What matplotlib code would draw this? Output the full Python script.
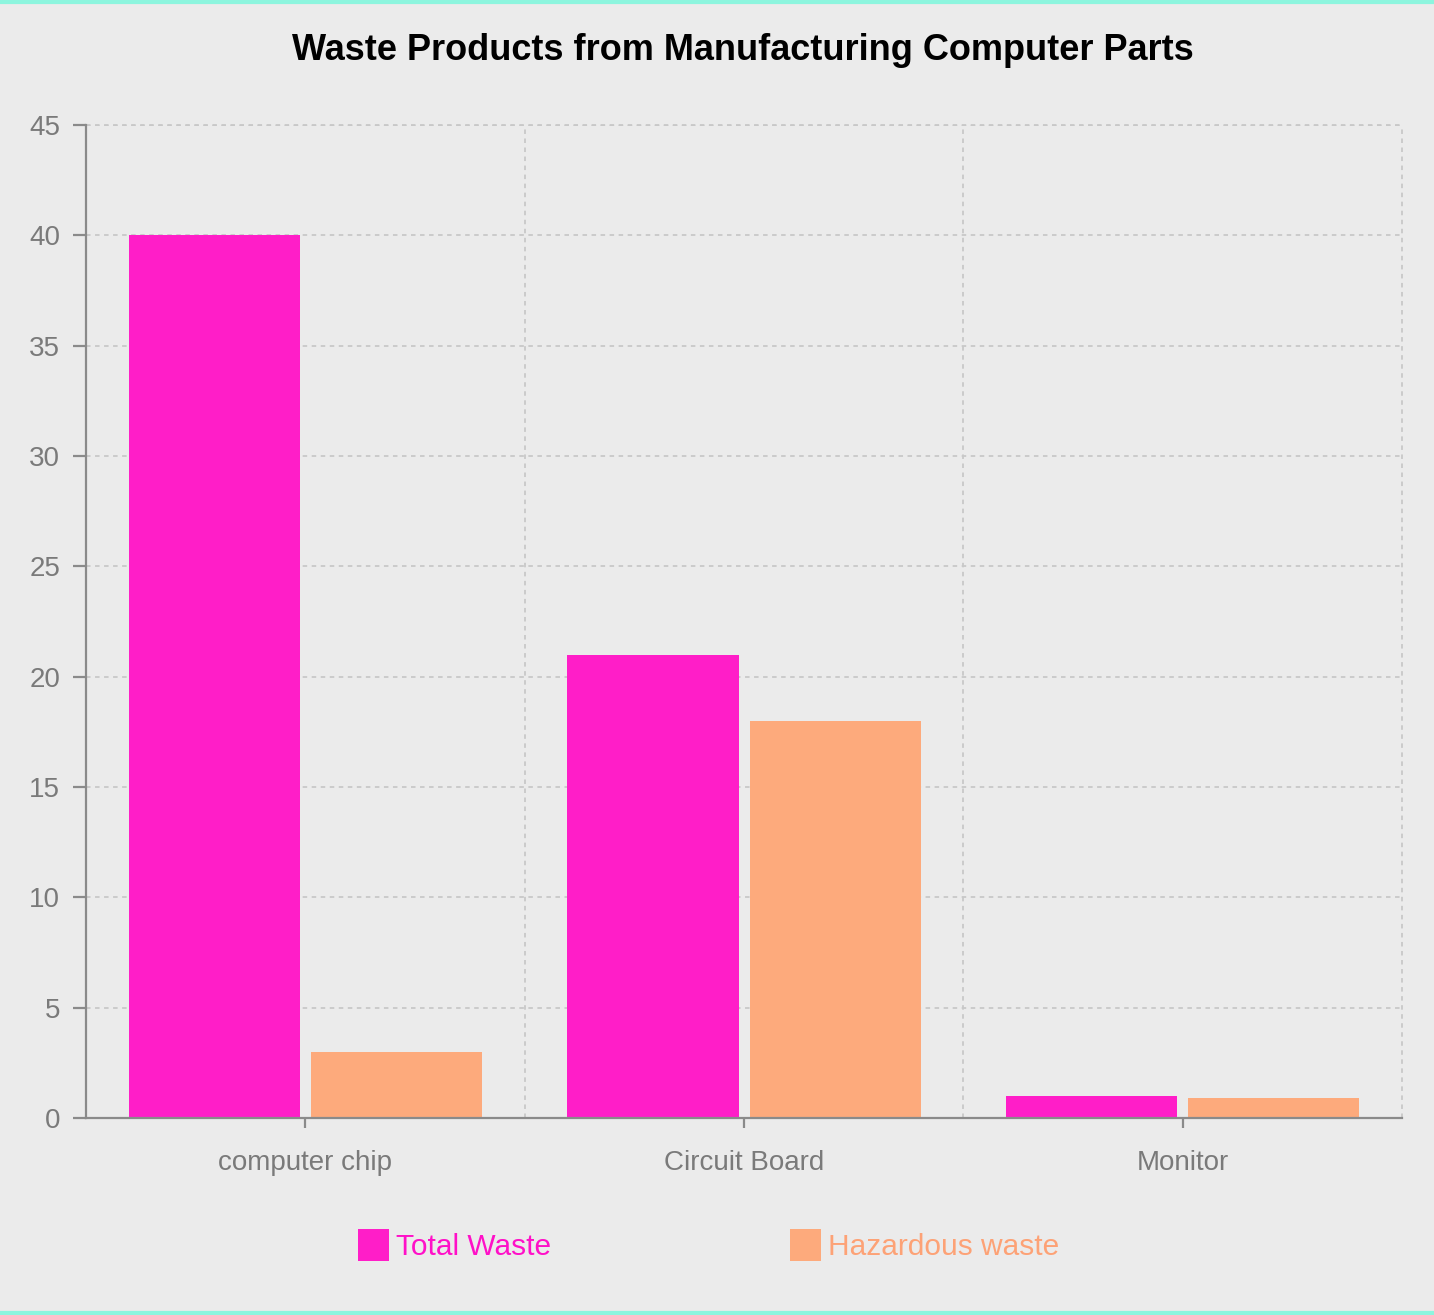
import matplotlib
matplotlib.use("Agg")
import matplotlib.pyplot as plt
import numpy as np
from matplotlib.lines import Line2D
from matplotlib.patches import Patch

plt.rcParams["font.family"] = ["Liberation Sans", "DejaVu Sans"]

categories = ["computer chip", "Circuit Board", "Monitor"]
total_waste = [40, 21, 1.0]
hazardous_waste = [3, 18, 0.9]
series_names = ["Total Waste", "Hazardous waste"]
colors = ["#FF1EC8", "#FDAA7C"]
label_colors = ["#FF10C8", "#FDA276"]

bg = "#EBEBEB"
axis_gray = "#8A8A8A"
text_gray = "#7A7A7A"
grid_gray = "#C8C8C8"

fig = plt.figure(figsize=(14.34, 13.15), dpi=100, facecolor=bg)
ax = fig.add_axes([0.060, 0.1498, 0.9177, 0.7551])
ax.set_facecolor(bg)

x = np.arange(len(categories))
width = 0.39
off = width / 2 + 0.0125
ax.bar(x - off, total_waste, width, color=colors[0], zorder=3)
ax.bar(x + off, hazardous_waste, width, color=colors[1], zorder=3)

ax.set_xlim(-0.5, 2.5)
ax.set_ylim(0, 45)
ax.set_yticks(np.arange(0, 46, 5))
ax.set_xticks(x)
ax.set_xticklabels(categories)

# grid
ax.yaxis.grid(True, color=grid_gray, linestyle=(0, (2.5, 2.5)), linewidth=1.3, zorder=0)
for b in [-0.5, 0.5, 1.5, 2.5]:
    ax.axvline(b, color=grid_gray, linestyle=(0, (2.5, 2.5)), linewidth=1.3, zorder=0, clip_on=False)
ax.axhline(45, color=grid_gray, linestyle=(0, (2.5, 2.5)), linewidth=1.3, zorder=0, clip_on=False)

for s in ["top", "right"]:
    ax.spines[s].set_visible(False)
for s in ["left", "bottom"]:
    ax.spines[s].set_color(axis_gray)
    ax.spines[s].set_linewidth(1.6)
    ax.spines[s].set_zorder(4)

ax.tick_params(axis="y", length=9.5, width=1.6, color=axis_gray, labelcolor=text_gray,
               labelsize=20, pad=9)
ax.tick_params(axis="x", length=7, width=1.6, color=axis_gray, labelcolor=text_gray,
               labelsize=20, pad=16)

fig.text(0.518, 0.9615, "Waste Products from Manufacturing Computer Parts",
         ha="center", va="center", fontsize=26, fontweight="bold", color="black")

handles = [Patch(facecolor=c, edgecolor="none") for c in colors]
leg = fig.legend(handles, series_names, loc="center", bbox_to_anchor=(0.494, 0.053),
                 ncol=2, frameon=False, fontsize=21.5, handlelength=1.05, handleheight=1.25,
                 handletextpad=0.22, columnspacing=8.0, labelcolor=label_colors)

# aquamarine frame lines top and bottom
for yy in [0.9985, 0.0015]:
    fig.add_artist(Line2D([0, 1], [yy, yy], transform=fig.transFigure,
                          color="#8DF5DE", linewidth=3))

fig.savefig("out.png", dpi=100, facecolor=bg)
